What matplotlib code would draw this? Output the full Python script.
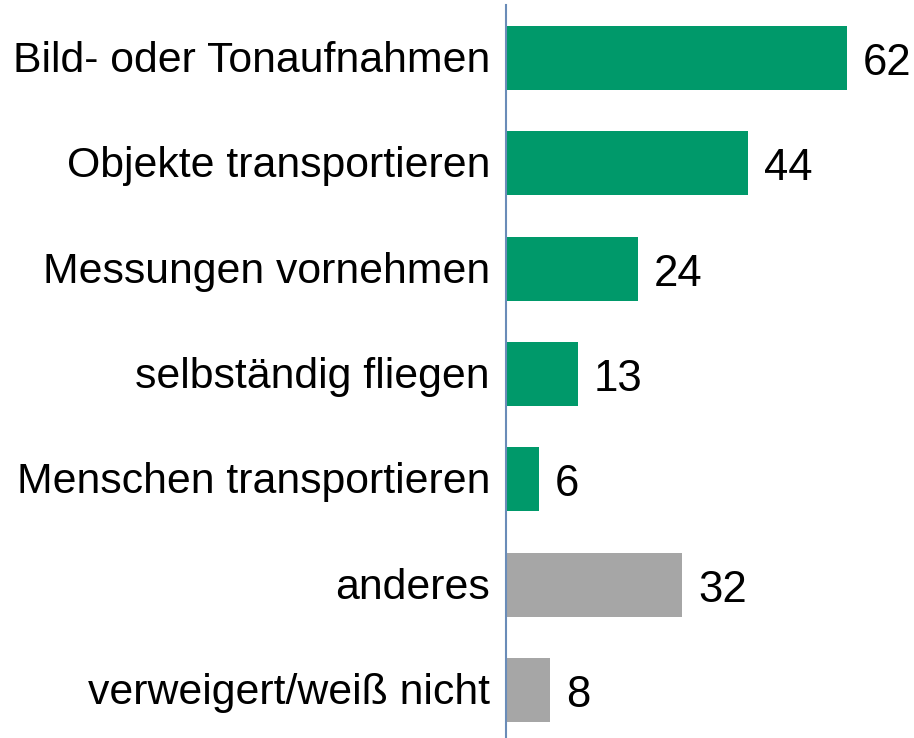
import matplotlib
matplotlib.use("Agg")
import matplotlib.pyplot as plt

categories = ["Bild- oder Tonaufnahmen", "Objekte transportieren", "Messungen vornehmen",
              "selbständig fliegen", "Menschen transportieren", "anderes", "verweigert/weiß nicht"]
values = [62, 44, 24, 13, 6, 32, 8]
colors = ["#00996A"] * 5 + ["#A6A6A6"] * 2

plt.rcParams['font.family'] = ['Liberation Sans', 'DejaVu Sans']

W, H = 914, 738
PT = 72 / 100  # points per pixel
fig = plt.figure(figsize=(W / 100, H / 100), dpi=100)
left = 506 / W
top_px, bot_px = 5, 738
ax = fig.add_axes([left, 1 - bot_px / H, 1 - left, (bot_px - top_px) / H])

pos = list(range(len(categories)))
ax.barh(pos, values, height=0.61, color=colors, zorder=2)
ax.set_xlim(0, (W - 506) / 5.5)
ax.set_ylim(6 + 48 / 105.33, -53 / 105.33)

for p, v in zip(pos, values):
    ax.annotate(str(v), (v, p), xytext=(16 * PT, -17 * PT), textcoords="offset points",
                va="baseline", ha="left", fontsize=31.5, color="black")

for p, c in zip(pos, categories):
    ax.annotate(c, (0, p), xytext=(-16 * PT, -14 * PT), textcoords="offset points",
                va="baseline", ha="right", fontsize=30.8, color="black",
                annotation_clip=False)

ax.set_yticks([])
ax.set_xticks([])
for s in ["top", "right", "bottom"]:
    ax.spines[s].set_visible(False)
ax.spines["left"].set_color("#6A8CB8")
ax.spines["left"].set_linewidth(1.5)
ax.spines["left"].set_zorder(3)

fig.savefig("out.png", dpi=100)
